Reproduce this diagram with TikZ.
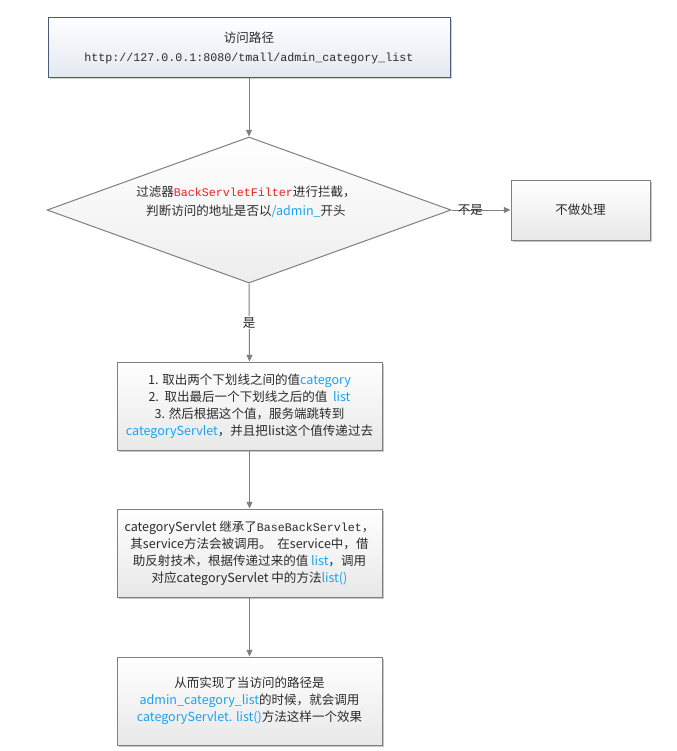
\documentclass[tikz,border=0pt]{standalone}
\usepackage{fontspec}
\setmainfont{Noto Sans CJK SC}
\newfontfamily\mono{Liberation Mono}
\usetikzlibrary{shapes.geometric,arrows.meta,shadows}
\definecolor{txt}{HTML}{2B2B2B}
\definecolor{hl}{HTML}{1AA3F0}
\definecolor{rd}{HTML}{F02020}
\definecolor{edgec}{HTML}{7F7F7F}
\definecolor{topedge}{HTML}{4A5A78}
\definecolor{topbot}{HTML}{E3E8F1}
\newcommand{\hlt}[1]{\textcolor{hl}{#1}}
\newcommand{\monot}[1]{{\mono\fontsize{8.75}{12.75}\selectfont #1}}
\begin{document}
\begin{tikzpicture}[x=0.75pt,y=-0.75pt,
  font=\fontsize{9.4}{12.75}\selectfont,
  boxstyle/.style={draw=edgec, line width=0.75pt, top color=white, bottom color=black!9,
    drop shadow={shadow xshift=1.2pt,shadow yshift=-1.2pt,opacity=0.22,fill=black},
    align=center, text=txt, inner sep=0pt},
  topbox/.style={draw=topedge, line width=0.75pt, top color=white, bottom color=topbot,
    drop shadow={shadow xshift=1.2pt,shadow yshift=-1.2pt,opacity=0.18,fill=black},
    align=center, text=txt, inner sep=0pt},
  arrowline/.style={draw=edgec, line width=0.75pt, -{Triangle[length=5pt,width=4.5pt]}}
]
\useasboundingbox[fill=white] (0,0) rectangle (676,751);

\node[topbox, minimum width=301.5pt, minimum height=45pt] (top) at (249,47) {};
\node[text=txt, align=center, inner sep=0pt] (toptext) at (249,48)
  {访问路径\\[1pt]\monot{http://127.0.0.1:8080/tmall/admin\_category\_list}};

\node[diamond, draw=edgec, line width=0.75pt, top color=white, bottom color=black!7,
  minimum width=303pt, minimum height=109.5pt, aspect=2.77, inner sep=0pt] (dia) at (249,210) {};
\node[text=txt, align=center, inner sep=0pt] (diatext) at (246,202)
  {过滤器\textcolor{rd}{\monot{BackServletFilter}}进行拦截，\\[2pt]
   判断访问的地址是否以\hlt{/admin\_}开头};

\node[boxstyle, minimum width=104.25pt, minimum height=45pt] (no) at (580.5,210) {不做处理};

\node[boxstyle, minimum width=198.75pt, minimum height=66pt] (b2) at (249.5,406)
  {1. 取出两个下划线之间的值\hlt{category}\\
   2.\ \ 取出最后一个下划线之后的值\ \ \hlt{list}\\
   3. 然后根据这个值，服务端跳转到\\
   \hlt{categoryServlet}，并且把list这个值传递过去};

\node[boxstyle, minimum width=198.75pt, minimum height=66pt] (b3) at (249.5,553)
  {categoryServlet 继承了\monot{BaseBackServlet}，\\
   其service方法会被调用。\ \ 在service中，借\\
   助反射技术，根据传递过来的值\ \hlt{list}，调用\\
   对应categoryServlet 中的方法\hlt{list()}};

\node[boxstyle, minimum width=198.75pt, minimum height=66pt] (b4) at (249.5,701)
  {从而实现了当访问的路径是\\
   \hlt{admin\_category\_list}的时候，就会调用\\
   \hlt{categoryServlet. list()}方法这样一个效果};

\draw[arrowline] (top.south) -- (dia.north);
\draw[arrowline] (dia.east) -- node[pos=0.32, text=txt, inner sep=0pt] (nolabel) {不是} (no.west);
\draw[arrowline] (dia.south) -- node[pos=0.5, fill=white, text=txt, inner sep=1pt] (yeslabel) {是} (b2.north);
\draw[arrowline] (b2.south) -- (b3.north);
\draw[arrowline] (b3.south) -- (b4.north);
\end{tikzpicture}
\end{document}
